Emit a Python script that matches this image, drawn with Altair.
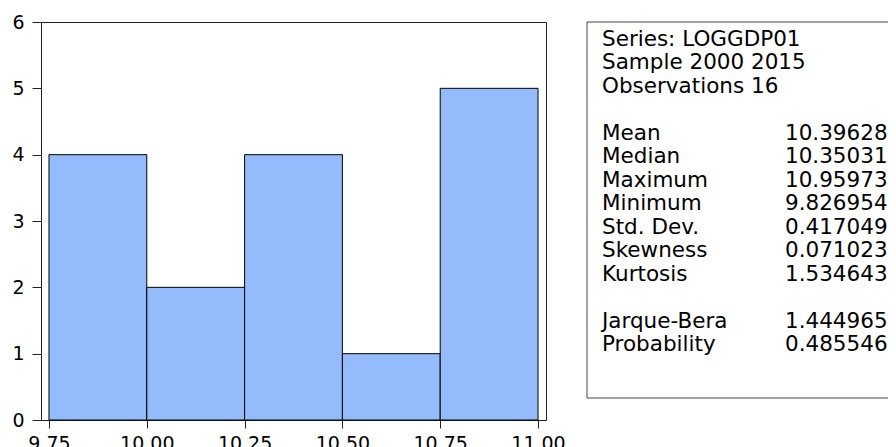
import altair as alt
import pandas as pd

# Histogram data
bin_lo = [9.75, 10.00, 10.25, 10.50, 10.75]
bin_hi = [10.00, 10.25, 10.50, 10.75, 11.00]
counts = [4, 2, 4, 1, 5]
x_ticks = [9.75, 10.00, 10.25, 10.50, 10.75, 11.00]
y_ticks = [0, 1, 2, 3, 4, 5, 6]

# Statistics panel
stat_rows = [0, 1, 2, 4, 5, 6, 7, 8, 9, 10, 12, 13]
stat_labels = ["Series: LOGGDP01", "Sample 2000 2015", "Observations 16",
               "Mean", "Median", "Maximum", "Minimum", "Std. Dev.",
               "Skewness", "Kurtosis", "Jarque-Bera", "Probability"]
stat_values = ["", "", "", "10.39628", "10.35031", "10.95973", "9.826954",
               "0.417049", "0.071023", "1.534643", "1.444965", "0.485546"]

df_bars = pd.DataFrame({"lo": bin_lo, "hi": bin_hi, "count": counts})

rows = []
for r, lab, val in zip(stat_rows, stat_labels, stat_values):
    rows.append({"row": r, "col": "label", "text": lab})
    if val:
        rows.append({"row": r, "col": "value", "text": val})
df_stats = pd.DataFrame(rows)

FONT = "DejaVu Sans"

bars = alt.Chart(df_bars).mark_rect(
    fill="#94BBFC", stroke="#000000", strokeWidth=1
).encode(
    x=alt.X("lo:Q",
            scale=alt.Scale(domain=[9.7296, 11.0204], nice=False, zero=False),
            axis=alt.Axis(values=x_ticks, format=".2f", title=None, grid=False,
                          domain=False, tickSize=8, labelPadding=6,
                          labelFlush=False, labelOverlap=False)),
    x2="hi:Q",
    y=alt.Y("count:Q",
            scale=alt.Scale(domain=[0, 6], nice=False),
            axis=alt.Axis(values=y_ticks, format="d", title=None, grid=False,
                          domain=False, tickSize=9, labelPadding=8,
                          labelFlush=False, labelOverlap=False)),
    y2=alt.datum(0),
)

box = alt.Chart(pd.DataFrame({"k": [0]})).mark_rect(
    filled=False, stroke="#444444", strokeWidth=1
).encode(
    x=alt.value(546), x2=alt.value(1000), y=alt.value(0), y2=alt.value(376)
)

stats = alt.Chart(df_stats).mark_text(
    align="left", baseline="middle", font=FONT, fontSize=21.5, color="#000000"
).encode(
    x=alt.X("col:N",
            scale=alt.Scale(type="point", domain=["label", "value"],
                            range=[561, 744], padding=0),
            axis=None),
    y=alt.Y("row:Q", scale=alt.Scale(domain=[0, 13], range=[18, 323]), axis=None),
    text="text:N",
)

chart = alt.layer(bars, box, stats).resolve_scale(
    x="independent", y="independent"
).properties(
    width=505,
    height=398,
    autosize=alt.AutoSizeParams(type="none"),
    padding={"left": 33, "top": 14, "right": 342, "bottom": 27},
).configure_view(
    stroke="#222222", strokeWidth=1
).configure_axis(
    labelFont=FONT, labelFontSize=19, labelColor="#000000",
    tickColor="#222222", tickWidth=1
)

chart.save("out.html", embed_options={"renderer": "svg", "actions": False})
